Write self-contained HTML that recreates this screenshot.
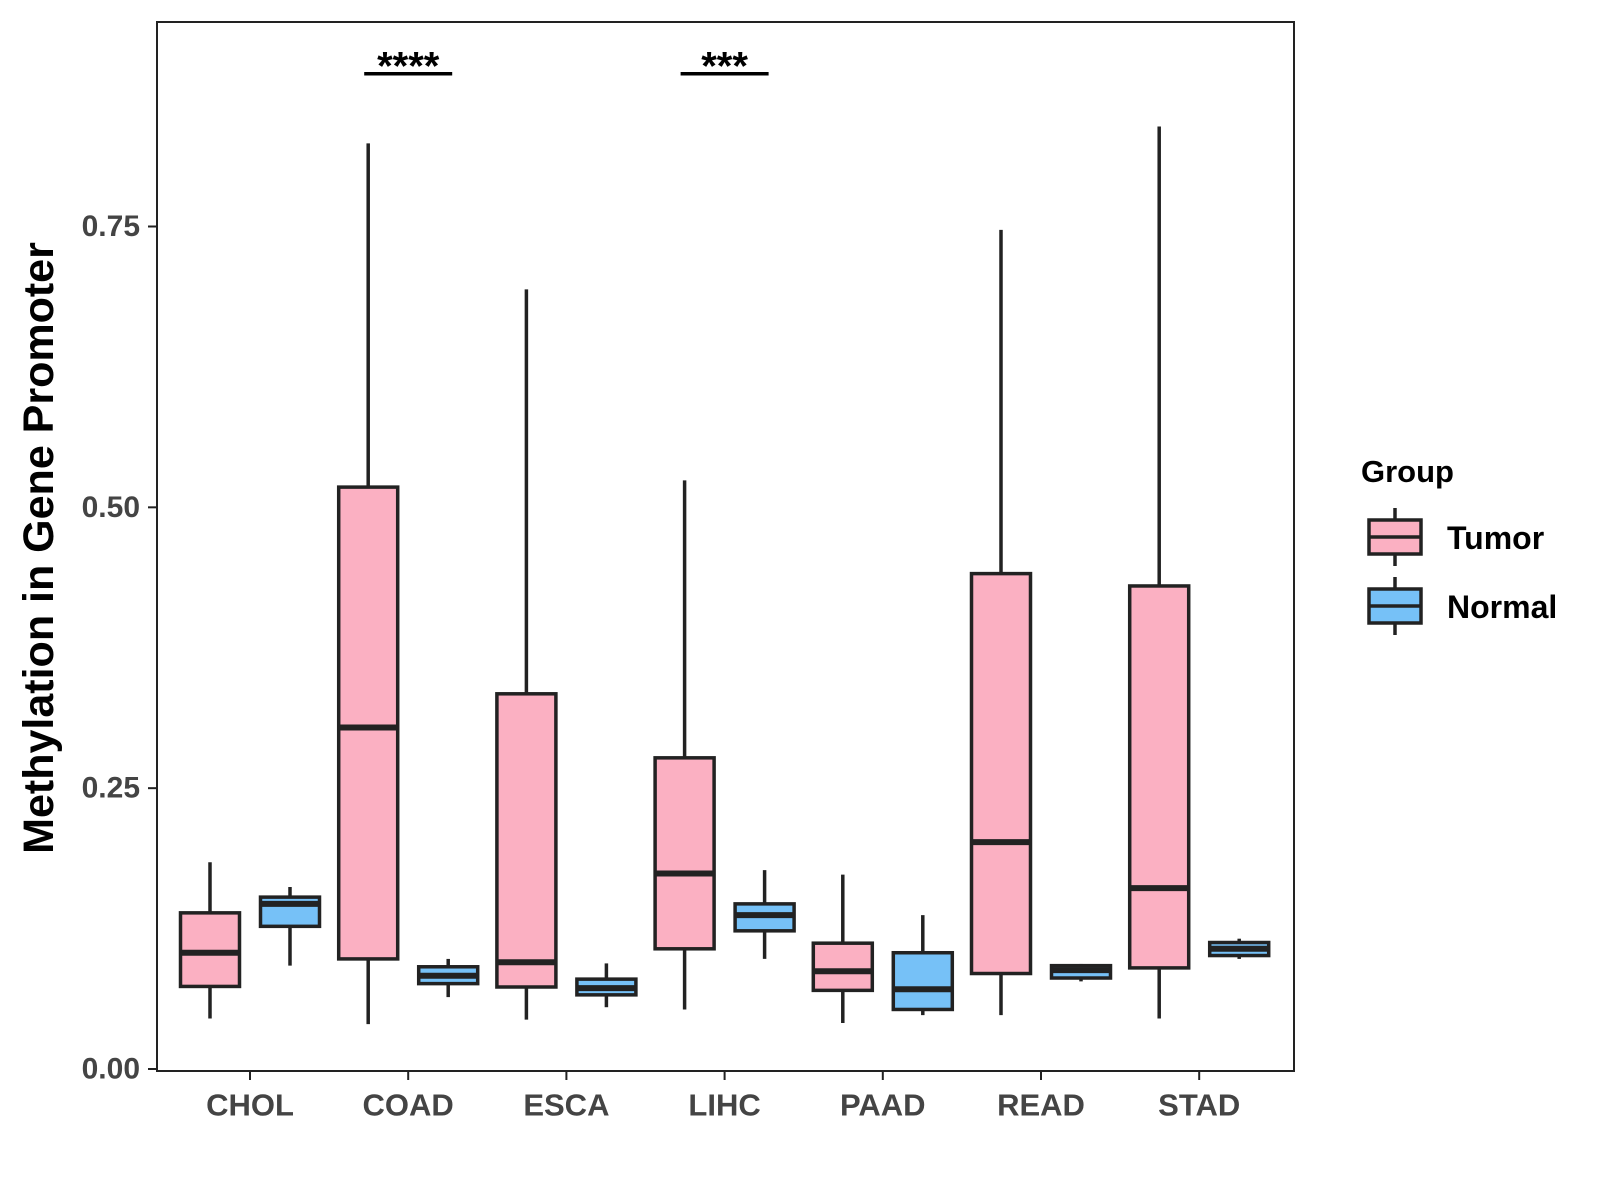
<!DOCTYPE html>
<html><head><meta charset="utf-8"><style>body{margin:0;background:#fff}svg{display:block}text{font-family:"Liberation Sans",Arial,sans-serif;font-weight:bold}</style></head>
<body>
<svg id="chart" width="1600" height="1200">
<rect x="0" y="0" width="1600" height="1200" fill="#fff"/>
<g id="plot"></g>
<rect x="157" y="22" width="1137" height="1049" fill="none" stroke="#222" stroke-width="2"/>
<text x="39" y="548" transform="rotate(-90 39 548)" text-anchor="middle" dominant-baseline="central" font-size="43" fill="#000">Methylation in Gene Promoter</text>
<g>
<text x="1361" y="482" font-size="31" fill="#000">Group</text>
<g>
<line x1="1395" y1="508" x2="1395" y2="566" stroke="#222" stroke-width="3.5"/>
<rect x="1369" y="520" width="52" height="34" fill="#FBB0C2" stroke="#222" stroke-width="3.5"/>
<line x1="1369" y1="537" x2="1421" y2="537" stroke="#222" stroke-width="3.5"/>
<text x="1447" y="549" font-size="32" fill="#000">Tumor</text></g>
<g>
<line x1="1395" y1="577" x2="1395" y2="635" stroke="#222" stroke-width="3.5"/>
<rect x="1369" y="589" width="52" height="34" fill="#76C1F7" stroke="#222" stroke-width="3.5"/>
<line x1="1369" y1="606" x2="1421" y2="606" stroke="#222" stroke-width="3.5"/>
<text x="1447" y="618" font-size="32" fill="#000">Normal</text></g>
</g>
</svg>
<script>
const categories=["CHOL","COAD","ESCA","LIHC","PAAD","READ","STAD"];
// [lowWhisker, q1, median, q3, highWhisker]
const tumorStats=[[0.045,0.0735,0.1035,0.139,0.184],[0.040,0.098,0.304,0.518,0.824],[0.044,0.073,0.095,0.334,0.694],[0.053,0.107,0.174,0.277,0.524],[0.041,0.070,0.087,0.112,0.173],[0.048,0.085,0.202,0.441,0.747],[0.045,0.090,0.161,0.430,0.839]];
const normalStats=[[0.092,0.127,0.147,0.153,0.162],[0.064,0.076,0.083,0.091,0.098],[0.055,0.066,0.072,0.080,0.094],[0.098,0.123,0.137,0.147,0.177],[0.048,0.053,0.071,0.1035,0.137],[0.078,0.081,0.088,0.092,0.0935],[0.098,0.101,0.107,0.1126,0.116]];
const yTicks=[0,0.25,0.5,0.75];
const yTickLabels=["0.00","0.25","0.50","0.75"];
const sigCategories=["COAD","LIHC"];
const sigLabels=["****","***"];
const sigValue=0.886;

const NS="http://www.w3.org/2000/svg";
const g=document.getElementById('plot');
const y=v=>1069-v*(1069-226.5)/0.75;
const x=i=>250+i*158.2;
function el(t,a,p){const e=document.createElementNS(NS,t);for(const k in a)e.setAttribute(k,a[k]);(p||g).appendChild(e);return e;}
yTicks.forEach((t,i)=>{
  const l=el('line',{x1:148,x2:157,y1:y(t),y2:y(t),stroke:'#222','stroke-width':2});
  
  
  const tx=el('text',{x:140,y:y(t),'text-anchor':'end','dominant-baseline':'central','font-size':30,fill:'#444'});
  tx.textContent=yTickLabels[i];
  
  
});
categories.forEach((c,i)=>{
  const l=el('line',{x1:x(i),x2:x(i),y1:1071,y2:1080,stroke:'#222','stroke-width':2});
  
  
  const tx=el('text',{x:x(i),y:1105,'text-anchor':'middle','dominant-baseline':'central','font-size':31,fill:'#444'});
  tx.textContent=c;
  
  
});
function box(s,cx,fill,name){
  const b=el('g',{});
  
  
  const w=59;
  el('line',{x1:cx,x2:cx,y1:y(s[0]),y2:y(s[4]),stroke:'#222','stroke-width':3.5},b);
  el('rect',{x:cx-w/2,y:y(s[3]),width:w,height:y(s[1])-y(s[3]),fill:fill,stroke:'#222','stroke-width':3.5},b);
  el('line',{x1:cx-w/2,x2:cx+w/2,y1:y(s[2]),y2:y(s[2]),stroke:'#222','stroke-width':6},b);
}
categories.forEach((c,i)=>{
  box(tumorStats[i],x(i)-40,'#FBB0C2','box-tumor-'+c.toLowerCase());
  box(normalStats[i],x(i)+40,'#76C1F7','box-normal-'+c.toLowerCase());
});
sigCategories.forEach((c,k)=>{
  const i=categories.indexOf(c);
  const l=el('line',{x1:x(i)-44,x2:x(i)+44,y1:y(sigValue),y2:y(sigValue),stroke:'#000','stroke-width':3.5});
  
  
  const t=el('text',{x:x(i),y:y(sigValue)+6,'text-anchor':'middle','font-size':40,fill:'#000'});
  t.textContent=sigLabels[k];
  
  
});
</script>
</body></html>
